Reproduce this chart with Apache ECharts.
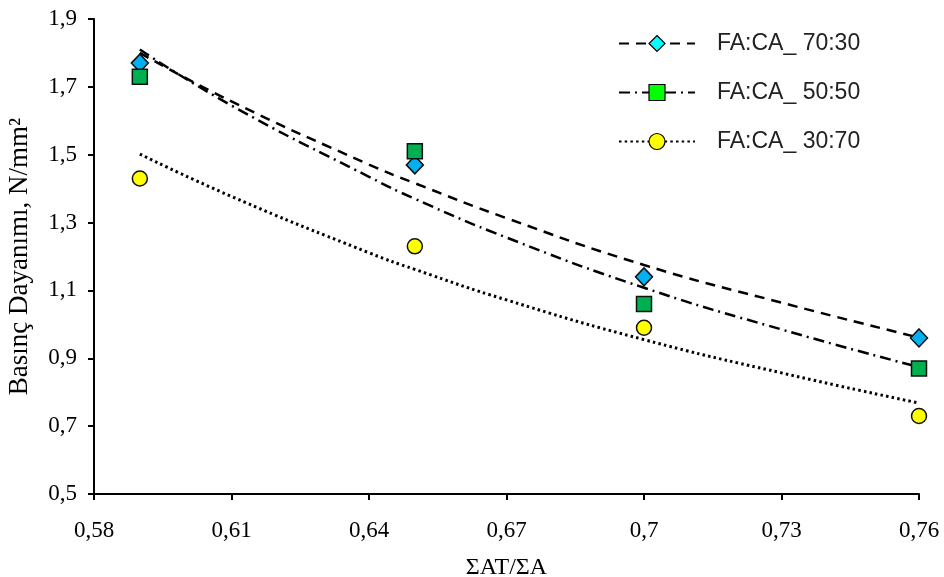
<!DOCTYPE html>
<html><head><meta charset="utf-8">
<script src="https://cdn.jsdelivr.net/npm/echarts@6/dist/echarts.min.js"></script>
<style>html,body{margin:0;padding:0;background:#fff}#c{width:944px;height:577px}</style>
</head><body><div id="c"></div>
<script>
// Measured points
const xs = [0.59, 0.65, 0.70, 0.76];
const s7030 = [1.77, 1.47, 1.14, 0.96];
const s5050 = [1.73, 1.51, 1.06, 0.87];
const s3070 = [1.43, 1.23, 0.99, 0.73];
// Trendlines
const trendX = [0.59, 0.61, 0.64, 0.65, 0.67, 0.70, 0.73, 0.76];
const trend7030 = [1.80, 1.657, 1.471, 1.416, 1.313, 1.175, 1.064, 0.961];
const trend5050 = [1.81, 1.645, 1.435, 1.370, 1.256, 1.108, 0.985, 0.874];
const trend3070 = [1.502, 1.377, 1.211, 1.162, 1.072, 0.955, 0.857, 0.768];
const names = ['FA:CA_ 70:30', 'FA:CA_ 50:50', 'FA:CA_ 30:70'];
const xTitle = 'ΣAT/ΣA';
const yTitle = 'Basınç Dayanımı, N/mm²';

const pair = (a, b) => a.map((v, i) => [v, b[i]]);
const fmt = v => String(+(+v).toFixed(2)).replace('.', ',');
const serif = '"Liberation Serif", "Times New Roman", serif';
const sans = '"Liberation Sans", Arial, sans-serif';

const legendFill = ['#00FFFF', '#00FF00', '#FFFF00'];
const pointFill = ['#00B0F0', '#00B050', '#FFFF00'];
const symbols = ['diamond', 'rect', 'circle'];
const symSizes = [[17, 18], 15, 15];
const dashes = [[10, 7], [11, 5, 2, 5], [2.5, 3.2]];
const widths = [2.5, 2.5, 3];
const trends = [trend7030, trend5050, trend3070];
const points = [s7030, s5050, s3070];

const series = [];
for (let i = 0; i < 3; i++) {
  series.push({
    name: names[i], type: 'line', smooth: true, showSymbol: false,
    symbol: symbols[i], symbolSize: 16,
    data: pair(trendX, trends[i]),
    lineStyle: { color: '#000', width: widths[i], type: dashes[i] },
    itemStyle: { color: legendFill[i], borderColor: '#000', borderWidth: 1.2 },
    z: 2, silent: true
  });
}
for (let i = 0; i < 3; i++) {
  series.push({
    name: names[i] + ' data', type: 'scatter',
    symbol: symbols[i], symbolSize: symSizes[i],
    data: pair(xs, points[i]),
    itemStyle: { color: pointFill[i], borderColor: '#111', borderWidth: 1.5, opacity: 1 },
    z: 5
  });
}

const chart = echarts.init(document.getElementById('c'), null, { renderer: 'canvas' });
chart.setOption({
  animation: false,
  backgroundColor: '#fff',
  grid: { left: 94, right: 25, top: 19, bottom: 83, containLabel: false, outerBoundsMode: 'none' },
  legend: {
    data: names.map((n, i) => ({ name: n, itemStyle: { color: legendFill[i], borderColor: '#000', borderWidth: 1.2 } })),
    orient: 'vertical', left: 613, top: 27,
    itemWidth: 76, itemHeight: 20, itemGap: 26,
    textStyle: { fontFamily: sans, fontSize: 23, color: '#222', padding: [0, 0, 0, 17] }
  },
  xAxis: {
    type: 'value', min: 0.58, max: 0.76, interval: 0.03,
    name: xTitle, nameLocation: 'middle', nameGap: 62,
    nameTextStyle: { fontFamily: serif, fontSize: 24, color: '#000' },
    axisLine: { lineStyle: { color: '#000', width: 2 } },
    axisTick: { length: 6, lineStyle: { color: '#000', width: 2 } },
    axisLabel: { formatter: fmt, fontFamily: serif, fontSize: 23, color: '#000', margin: 25 },
    splitLine: { show: false }
  },
  yAxis: {
    type: 'value', min: 0.5, max: 1.9, interval: 0.2,
    name: yTitle, nameLocation: 'middle', nameGap: 61,
    nameTextStyle: { fontFamily: serif, fontSize: 27, color: '#000' },
    axisLine: { show: true, lineStyle: { color: '#000', width: 2 } },
    axisTick: { show: true, length: 6, lineStyle: { color: '#000', width: 2 } },
    axisLabel: { formatter: fmt, fontFamily: serif, fontSize: 23, color: '#000', margin: 17 },
    splitLine: { show: false }
  },
  series: series
});
</script></body></html>
